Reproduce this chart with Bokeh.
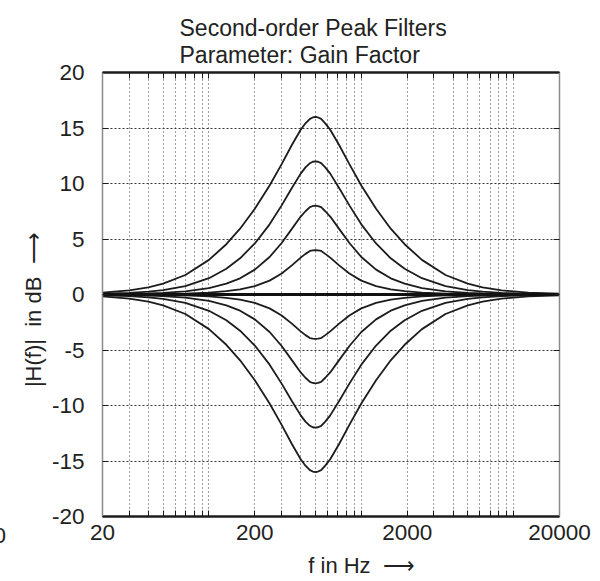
from bokeh.plotting import figure
from bokeh.models import FixedTicker, LogAxis, LinearAxis, Title
from bokeh.embed import file_html
from bokeh.resources import INLINE

# Frequency points (Hz) at which the magnitude responses are sampled
freq_hz = [20, 30, 40, 50, 70, 100, 130, 160, 200, 250, 300, 350, 400, 430, 460, 480,
           500, 520, 545, 580, 625, 715, 835, 1000, 1250, 1560, 1925, 2500, 3570, 5000,
           6250, 8330, 12500, 20000]

# Magnitude responses in dB, one list per gain setting
gain_p16 = [0.17, 0.37, 0.65, 0.98, 1.76, 3.12, 4.53, 5.93, 7.72, 9.82, 11.75, 13.47,
            14.84, 15.42, 15.82, 15.95, 16.0, 15.95, 15.82, 15.42, 14.84, 13.47, 11.75,
            9.82, 7.72, 5.93, 4.53, 3.12, 1.76, 0.98, 0.65, 0.37, 0.17, 0.07]
gain_p12 = [0.07, 0.15, 0.26, 0.40, 0.76, 1.47, 2.32, 3.26, 4.60, 6.32, 8.03, 9.60,
            10.89, 11.45, 11.83, 11.96, 12.0, 11.96, 11.83, 11.45, 10.89, 9.60, 8.03,
            6.32, 4.60, 3.26, 2.32, 1.47, 0.76, 0.40, 0.26, 0.15, 0.07, 0.03]
gain_p8 = [0.02, 0.05, 0.09, 0.15, 0.29, 0.58, 0.98, 1.46, 2.24, 3.38, 4.64, 5.91,
           7.02, 7.50, 7.87, 7.97, 8.0, 7.97, 7.87, 7.50, 7.02, 5.91, 4.64, 3.38, 2.24,
           1.46, 0.98, 0.58, 0.29, 0.15, 0.09, 0.05, 0.02, 0.01]
gain_p4 = [0.01, 0.02, 0.03, 0.04, 0.08, 0.17, 0.30, 0.47, 0.76, 1.25, 1.89, 2.62,
           3.32, 3.66, 3.92, 3.98, 4.0, 3.98, 3.92, 3.66, 3.32, 2.62, 1.89, 1.25, 0.76,
           0.47, 0.30, 0.17, 0.08, 0.04, 0.03, 0.02, 0.01, 0.0]
gain_0 = [0.0] * 34
gain_m4 = [-0.01, -0.02, -0.03, -0.04, -0.08, -0.17, -0.30, -0.47, -0.76, -1.25,
           -1.89, -2.62, -3.32, -3.66, -3.92, -3.98, -4.0, -3.98, -3.92, -3.66, -3.32,
           -2.62, -1.89, -1.25, -0.76, -0.47, -0.30, -0.17, -0.08, -0.04, -0.03, -0.02,
           -0.01, 0.0]
gain_m8 = [-0.02, -0.05, -0.09, -0.15, -0.29, -0.58, -0.98, -1.46, -2.24, -3.38,
           -4.64, -5.91, -7.02, -7.50, -7.87, -7.97, -8.0, -7.97, -7.87, -7.50, -7.02,
           -5.91, -4.64, -3.38, -2.24, -1.46, -0.98, -0.58, -0.29, -0.15, -0.09, -0.05,
           -0.02, -0.01]
gain_m12 = [-0.07, -0.15, -0.26, -0.40, -0.76, -1.47, -2.32, -3.26, -4.60, -6.32,
            -8.03, -9.60, -10.89, -11.45, -11.83, -11.96, -12.0, -11.96, -11.83, -11.45,
            -10.89, -9.60, -8.03, -6.32, -4.60, -3.26, -2.32, -1.47, -0.76, -0.40,
            -0.26, -0.15, -0.07, -0.03]
gain_m16 = [-0.17, -0.37, -0.65, -0.98, -1.76, -3.12, -4.53, -5.93, -7.72, -9.82,
            -11.75, -13.47, -14.84, -15.42, -15.82, -15.95, -16.0, -15.95, -15.82,
            -15.42, -14.84, -13.47, -11.75, -9.82, -7.72, -5.93, -4.53, -3.12, -1.76,
            -0.98, -0.65, -0.37, -0.17, -0.07]

x_major = [20, 200, 2000, 20000]
x_minor = [30, 40, 50, 60, 70, 80, 90, 100,
           300, 400, 500, 600, 700, 800, 900, 1000,
           3000, 4000, 5000, 6000, 7000, 8000, 9000, 10000]
y_ticks = [-20, -15, -10, -5, 0, 5, 10, 15, 20]

NB = "\u00a0"
title_lines = ["Second-order Peak Filters", "Parameter: Gain Factor"]
# leading / trailing no-break spaces shift the centred axis titles along their axis
x_title = NB * 10 + "f in Hz" + NB * 2 + "\u27f6"
y_title = "|H(f)|" + NB * 2 + "in dB" + NB * 2 + "\u27f6" + NB * 5
edge_digit = "0"

FONT = "Liberation Sans"
INK = "#1c1c1c"
TXT = "#222222"

p = figure(width=600, height=581, x_axis_type="log",
           x_range=(20, 20000), y_range=(-20, 20),
           min_border_left=102, min_border_right=41,
           min_border_top=72, min_border_bottom=65,
           output_backend="svg", toolbar_location=None,
           background_fill_color="white", border_fill_color="white",
           outline_line_color=None, title=None)

xt = FixedTicker(ticks=x_major, minor_ticks=x_minor)
yt = FixedTicker(ticks=y_ticks)

# bottom / left axes with labels
xa = p.xaxis[0]
xa.ticker = xt
xa.major_label_overrides = {v: str(v) for v in x_major}
ya = p.yaxis[0]
ya.ticker = yt
ya.major_label_overrides = {v: str(v) for v in y_ticks}

for ax in (xa, ya):
    ax.major_tick_in = 6
    ax.major_tick_out = 0
    ax.minor_tick_in = 6
    ax.minor_tick_out = 0
    ax.major_tick_line_color = INK
    ax.minor_tick_line_color = INK
    ax.major_label_text_font = FONT
    ax.major_label_text_font_size = "22.5px"
    ax.major_label_text_color = TXT
ya.minor_tick_line_color = None
xa.axis_line_color = INK
xa.axis_line_width = 2.5
xa.major_label_standoff = 8
xa.axis_label = x_title
xa.axis_label_text_font = FONT
xa.axis_label_text_font_size = "22px"
xa.axis_label_text_font_style = "normal"
xa.axis_label_text_color = TXT
xa.axis_label_standoff = 10
ya.axis_line_color = "#8a8a8a"
ya.axis_line_width = 1.5
ya.major_label_standoff = 18

# top / right axes as plain box edges with inward ticks (labels hidden)
top = LogAxis(ticker=xt, major_label_text_alpha=0, major_label_text_font_size="1px",
              major_label_standoff=0,
              major_tick_in=6, major_tick_out=0, minor_tick_in=6, minor_tick_out=0,
              axis_line_color=INK, axis_line_width=2.5,
              major_tick_line_color=INK, minor_tick_line_color=INK)
right = LinearAxis(ticker=yt, major_label_text_alpha=0, major_label_text_font_size="1px",
                   major_label_standoff=0,
                   major_tick_in=6, major_tick_out=0, minor_tick_line_color=None,
                   axis_line_color="#8a8a8a", axis_line_width=1.5,
                   major_tick_line_color=INK)
p.add_layout(top, "above")
p.add_layout(right, "right")


def side_text(text, size, offset, standoff, align="left"):
    return Title(text=text, align=align, offset=offset, standoff=standoff,
                 text_font=FONT, text_font_size=size, text_font_style="normal",
                 text_color=TXT)


# two-line title, left aligned above the frame (first added sits nearest the frame)
p.add_layout(side_text(title_lines[1], "23px", 77, 9), "above")
p.add_layout(side_text(title_lines[0], "23px", 77, -11), "above")

# the clipped digit at the lower left page edge, level with the tick labels
p.below = [side_text(edge_digit, "22.5px", -109, -52)] + list(p.below)

# y-axis title
p.add_layout(side_text(y_title, "22px", 0, 5, align="center"), "left")

# dotted grid
p.xgrid.ticker = xt
p.xgrid.grid_line_color = "#3a3a3a"
p.xgrid.grid_line_dash = "1 3"
p.xgrid.minor_grid_line_color = "#3a3a3a"
p.xgrid.minor_grid_line_dash = "1 3"
p.ygrid.ticker = FixedTicker(ticks=[-15, -10, -5, 0, 5, 10, 15])
p.ygrid.grid_line_color = "#333333"
p.ygrid.grid_line_dash = "2 2"

curves = [gain_p16, gain_p12, gain_p8, gain_p4, gain_m4, gain_m8, gain_m12, gain_m16]
for g in curves:
    p.line(freq_hz, g, line_color=INK, line_width=1.8)
p.line(freq_hz, gain_0, line_color="#111111", line_width=3)

open("out.html", "w").write(file_html(p, INLINE))
